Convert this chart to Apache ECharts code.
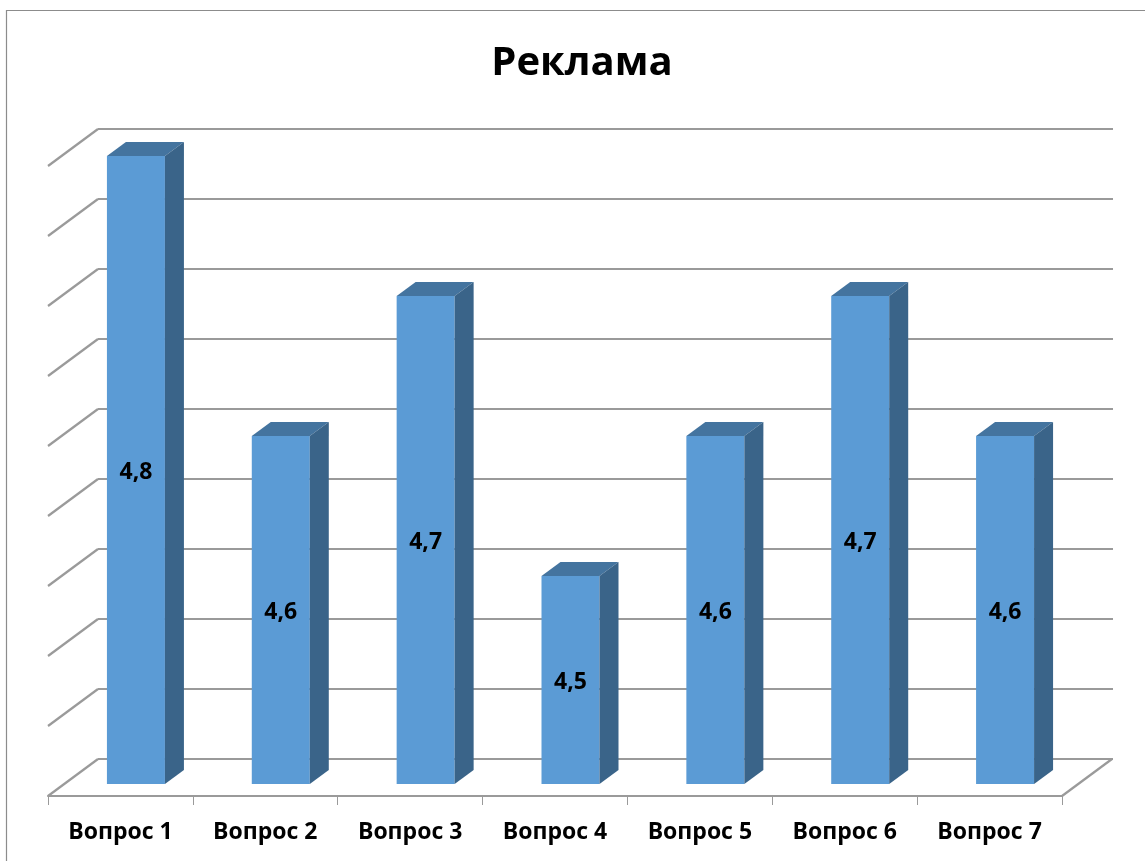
<!DOCTYPE html>
<html>
<head>
<meta charset="utf-8">
<style>html,body{margin:0;padding:0;background:#fff}#c{width:1145px;height:861px}</style>
<script src="https://cdn.jsdelivr.net/npm/echarts@6/dist/echarts.min.js"></script>
</head>
<body>
<div id="c"></div>
<script>
const titleText = 'Реклама';
const categories = ['Вопрос 1','Вопрос 2','Вопрос 3','Вопрос 4','Вопрос 5','Вопрос 6','Вопрос 7'];
const values = [4.8, 4.6, 4.7, 4.5, 4.6, 4.7, 4.6];
const axisTicks = [4.35, 4.4, 4.45, 4.5, 4.55, 4.6, 4.65, 4.7, 4.75, 4.8];

const FONT = '"Open Sans", sans-serif';
const LINE = '#9a9a9a';
const WALL_DX = 50, WALL_DY = -37;
const BAR_W = 58, BAR_DX = 15.5, BAR_DY = -10, BASE_DY = -12, SIDE_DX = 19, SIDE_DY = -14;

function renderWall(params, api) {
  const r = params.coordSys;
  const y = api.coord([0, api.value(0)])[1];
  const lineStyle = {stroke: LINE, lineWidth: 2.2, fill: null};
  const children = [{type: 'line', shape: {x1: r.x, y1: y, x2: r.x + WALL_DX, y2: y + WALL_DY}, style: lineStyle}];
  if (params.dataIndex === 0) {
    children.push({type: 'line', shape: {x1: r.x + r.width, y1: y, x2: r.x + r.width + WALL_DX, y2: y + WALL_DY}, style: lineStyle});
  }
  return {type: 'group', children};
}

function renderBar(params, api) {
  const v = api.value(1);
  const p = api.coord([api.value(0), v]);
  const base = api.coord([api.value(0), axisTicks[0]]);
  const cx = p[0] + BAR_DX;
  const x0 = cx - BAR_W / 2, x1 = cx + BAR_W / 2;
  const top = p[1] + BAR_DY, bot = base[1] + BASE_DY;
  const label = String(v).replace('.', ',');
  return {type: 'group', children: [
    {type: 'rect', shape: {x: x0, y: top, width: BAR_W, height: bot - top}, style: {fill: '#5b9bd5'}},
    {type: 'polygon', shape: {points: [[x0, top], [x1, top], [x1 + SIDE_DX, top + SIDE_DY], [x0 + SIDE_DX, top + SIDE_DY]]}, style: {fill: '#44749f'}},
    {type: 'polygon', shape: {points: [[x1, top], [x1 + SIDE_DX, top + SIDE_DY], [x1 + SIDE_DX, bot + SIDE_DY], [x1, bot]]}, style: {fill: '#3a6489'}},
    {type: 'text', x: cx, y: (top + bot) / 2 + 2.5, style: {text: label, fill: '#000', font: 'bold 23px ' + FONT, textAlign: 'center', textVerticalAlign: 'middle'}}
  ]};
}

const chart = echarts.init(document.getElementById('c'), null, {renderer: 'canvas'});
chart.setOption({
  animation: false,
  backgroundColor: '#fff',
  title: {text: titleText, left: 577, top: 39, textAlign: 'center',
    textStyle: {fontFamily: FONT, fontWeight: 'bold', fontSize: 40, color: '#000'}},
  graphic: [{type: 'polyline', silent: true, shape: {points: [[6.5, 861], [6.5, 10.5], [1145, 10.5]]},
    style: {stroke: '#8c8c8c', lineWidth: 1.2, fill: null}}],
  grid: [
    {left: 48, top: 166, width: 1014, height: 630},
    {left: 98, top: 129, width: 1015, height: 630}
  ],
  xAxis: [
    {type: 'category', gridIndex: 0, data: categories,
      axisLine: {show: true, lineStyle: {color: LINE, width: 2}},
      axisTick: {show: true, length: 9, lineStyle: {color: LINE, width: 1}},
      axisLabel: {color: '#000', fontFamily: FONT, fontWeight: 'bold', fontSize: 23, margin: 25, interval: 0}},
    {type: 'category', gridIndex: 1, data: categories, show: false}
  ],
  yAxis: [
    {type: 'value', gridIndex: 0, min: 4.35, max: 4.8, interval: 0.05, show: false, splitLine: {show: false}},
    {type: 'value', gridIndex: 1, min: 4.35, max: 4.8, interval: 0.05,
      axisLine: {show: false}, axisTick: {show: false}, axisLabel: {show: false},
      splitLine: {show: true, lineStyle: {color: LINE, width: 2}}}
  ],
  series: [
    {type: 'custom', xAxisIndex: 0, yAxisIndex: 0, renderItem: renderWall, silent: true, clip: false, z: 1,
      encode: {y: 0}, data: axisTicks.map(t => [t])},
    {type: 'custom', xAxisIndex: 0, yAxisIndex: 0, renderItem: renderBar, clip: false, z: 3,
      encode: {x: 0, y: 1}, data: values.map((v, i) => [i, v])}
  ]
});
</script>
</body>
</html>
